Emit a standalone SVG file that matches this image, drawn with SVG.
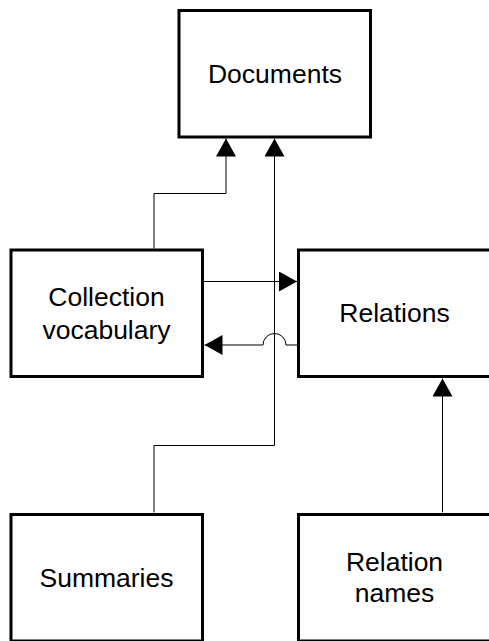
<svg xmlns="http://www.w3.org/2000/svg" width="489" height="641" viewBox="0 0 489 641">
<style>
.box{fill:#fff;stroke:#000;stroke-width:3}
.lbl{font-family:"Liberation Sans",Arial,sans-serif;font-size:26.5px;fill:#000;text-anchor:middle}
.con{fill:none;stroke:#000;stroke-width:1}
</style>
<defs>
<marker id="arr" markerUnits="userSpaceOnUse" markerWidth="18" markerHeight="20" refX="18" refY="10" orient="auto" viewBox="0 0 18 20">
<path d="M0,0 L18,10 L0,20 z" fill="#000"/>
</marker>
</defs>
<rect width="489" height="641" fill="#fff"/>
<g id="connectors">
<path class="con" d="M154,248.5 V193.5 H226 V138.5" marker-end="url(#arr)"/>
<path class="con" d="M154,512.5 V445.5 H274.5 V138.5" marker-end="url(#arr)"/>
<path class="con" d="M204,281.5 H297" marker-end="url(#arr)"/>
<path class="con" d="M297,345 H286 A11.5,11.5 0 0 0 263,345 H204.5" marker-end="url(#arr)"/>
<path class="con" d="M442.5,512.5 V378.5" marker-end="url(#arr)"/>
</g>
<g id="documents">
<rect class="box" x="179" y="10.5" width="191.5" height="126.5"/>
<text class="lbl" x="275" y="83">Documents</text>
</g>
<g id="collection-vocabulary">
<rect class="box" x="11" y="250" width="191.5" height="126.5"/>
<text class="lbl" x="106.5" y="306">Collection</text>
<text class="lbl" x="106.5" y="339">vocabulary</text>
</g>
<g id="relations">
<rect class="box" x="298.5" y="250" width="192" height="126.5"/>
<text class="lbl" x="394.5" y="322">Relations</text>
</g>
<g id="summaries">
<rect class="box" x="11" y="514.5" width="191.5" height="126.5"/>
<text class="lbl" x="106.5" y="586.5">Summaries</text>
</g>
<g id="relation-names">
<rect class="box" x="298.5" y="514.5" width="192" height="126.5"/>
<text class="lbl" x="394.5" y="570.5">Relation</text>
<text class="lbl" x="394.5" y="602">names</text>
</g>
</svg>
